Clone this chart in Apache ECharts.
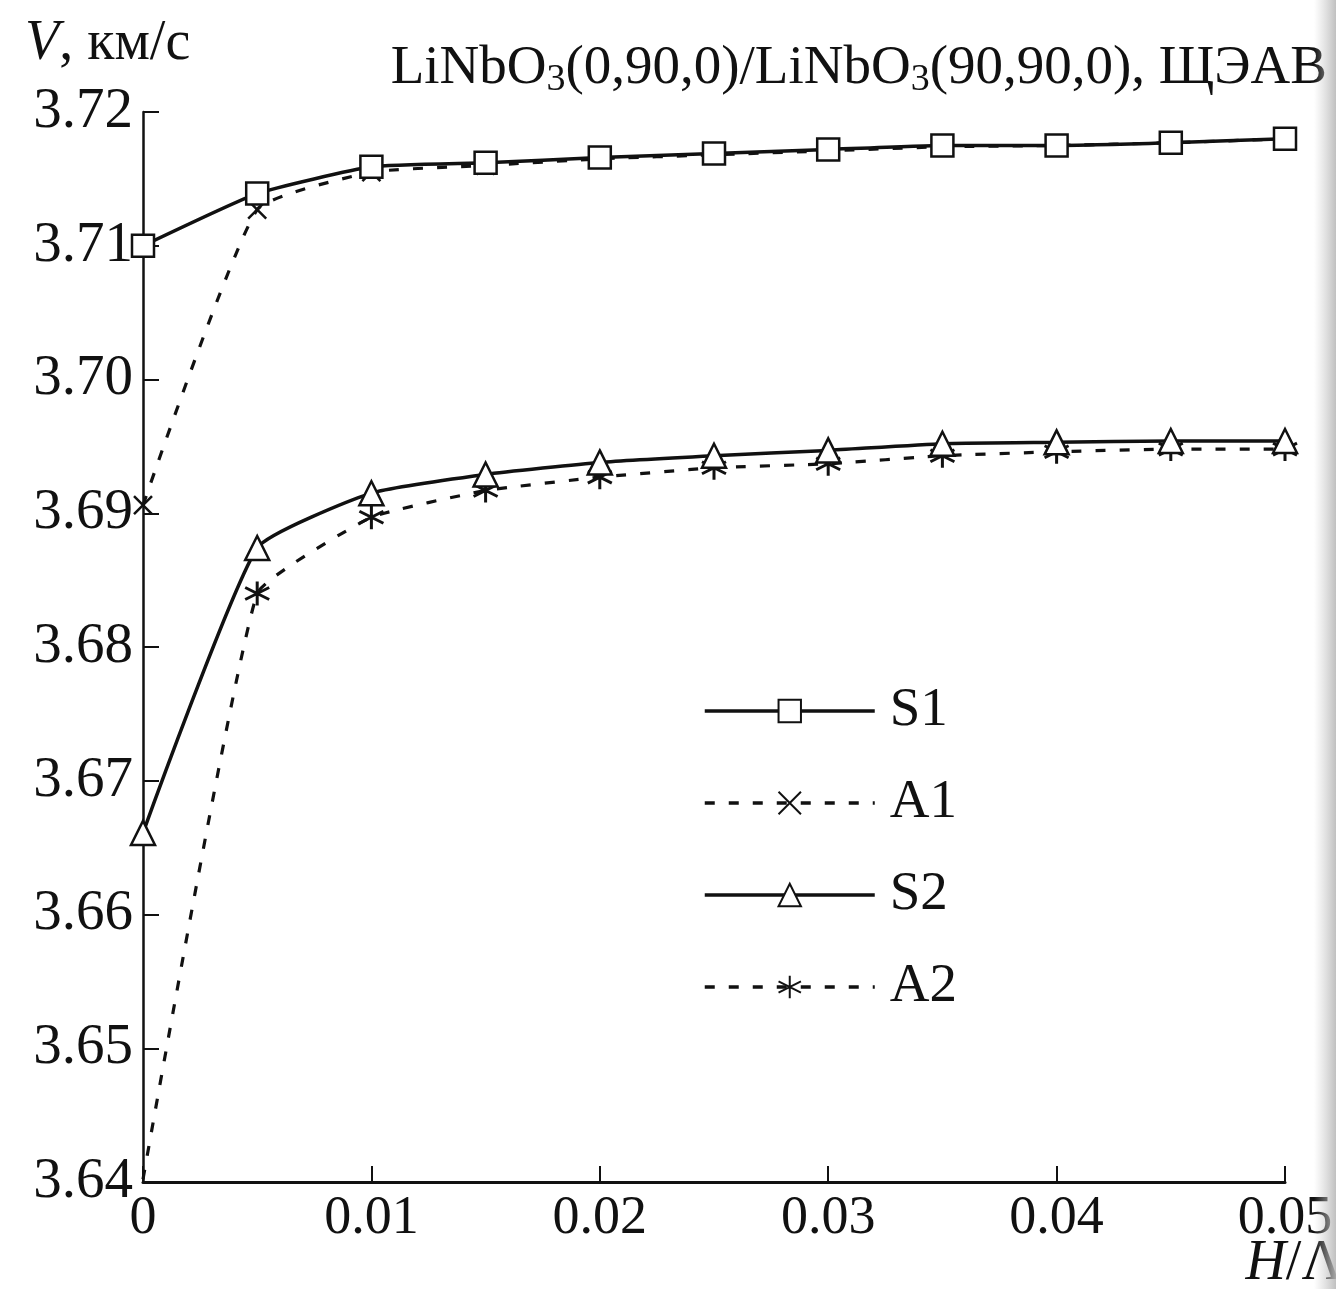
<!DOCTYPE html>
<html>
<head>
<meta charset="utf-8">
<script src="https://cdn.jsdelivr.net/npm/echarts@6/dist/echarts.min.js"></script>
<style>
  html, body { margin: 0; padding: 0; background: #fff; }
  #chart { width: 1336px; height: 1289px; }
</style>
</head>
<body>
<div id="chart"></div>
<script>
// толщина слоя H/Λ
const hL = [0, 0.005, 0.01, 0.015, 0.02, 0.025, 0.03, 0.035, 0.04, 0.045, 0.05];
// скорости, км/с
const S1 = [3.7100, 3.7139, 3.7159, 3.7162, 3.7166, 3.7169, 3.7172, 3.7175, 3.7175, 3.7177, 3.7180];
const A1 = [3.6906, 3.7127, 3.7155, 3.7160, 3.7165, 3.7168, 3.7171, 3.7174, 3.7175, 3.7177, 3.7180];
const S2 = [3.6661, 3.6874, 3.6915, 3.6929, 3.6938, 3.6943, 3.6947, 3.6952, 3.6953, 3.6954, 3.6954];
const A2 = [3.6402, 3.6840, 3.6897, 3.6917, 3.6927, 3.6934, 3.6937, 3.6943, 3.6946, 3.6948, 3.6948];
const seriesNames = ['S1', 'A1', 'S2', 'A2'];

const FONT = 'Liberation Serif';
const pairs = (ys) => hL.map((x, i) => [x, ys[i]]);

// маркеры-крестики рисуем контуром
const crossPath = 'path://M0 0 L10 10 M10 0 L0 10';
const starPath = 'path://M5 0 L5 10 M0.7 2.5 L9.3 7.5 M0.7 7.5 L9.3 2.5';

const chart = echarts.init(document.getElementById('chart'));

const solid = { color: '#111', width: 3.5, type: 'solid' };
const dashed = { color: '#111', width: 3.2, type: [10, 14] };
const italicRich = { i: { fontFamily: FONT, fontStyle: 'italic', fontSize: 56, fill: '#111' } };

chart.setOption({
    backgroundColor: '#fff',
    animation: false,
    title: {
        text: 'LiNbO{s|3}(0,90,0)/LiNbO{s|3}(90,90,0), ЩЭАВ',
        right: 4, top: 34,
        textStyle: {
            fontFamily: FONT, fontSize: 55, fontWeight: 'normal', color: '#111',
            rich: { s: { fontFamily: FONT, fontSize: 38, color: '#111', verticalAlign: 'bottom', padding: [22, 0, 0, 0] } }
        }
    },
    grid: { left: 143, right: 51, top: 112, bottom: 107, containLabel: false },
    legend: {
        orient: 'vertical', left: 698, top: 678,
        itemWidth: 170, itemHeight: 28, itemGap: 36,
        data: seriesNames,
        lineStyle: { width: 3.5 },
        textStyle: { fontFamily: FONT, fontSize: 55, lineHeight: 56, color: '#111', padding: [0, 0, 0, 10] }
    },
    xAxis: {
        type: 'value', min: 0, max: 0.05, interval: 0.01,
        axisLine: { lineStyle: { color: '#111', width: 3 } },
        axisTick: { inside: true, length: 16, lineStyle: { color: '#111', width: 2 } },
        splitLine: { show: false },
        axisLabel: {
            fontFamily: FONT, fontSize: 54, color: '#111', margin: 10,
            formatter: (v) => v === 0 ? '0' : v.toFixed(2)
        }
    },
    yAxis: {
        type: 'value', min: 3.64, max: 3.72, interval: 0.01,
        axisLine: { show: true, lineStyle: { color: '#111', width: 2.5 } },
        axisTick: { inside: true, length: 16, lineStyle: { color: '#111', width: 2 } },
        splitLine: { show: false },
        axisLabel: {
            fontFamily: FONT, fontSize: 57, color: '#111', margin: 10,
            formatter: (v) => v.toFixed(2)
        }
    },
    graphic: [
        {
            type: 'text', left: 25, top: 16,
            style: { text: '{i|V}, км/с', font: '56px "Liberation Serif"', fill: '#111', rich: italicRich }
        },
        {
            type: 'text', right: -6, top: 1236,
            style: { text: '{i|H}/Λ', font: '56px "Liberation Serif"', fill: '#111', rich: italicRich }
        },
        {
            type: 'rect', right: 0, top: 0, z: 100,
            shape: { width: 22, height: 1289 },
            style: {
                fill: new echarts.graphic.LinearGradient(0, 0, 1, 0, [
                    { offset: 0, color: 'rgba(200,200,200,0)' },
                    { offset: 1, color: 'rgba(185,185,185,0.9)' }
                ])
            }
        }
    ],
    series: [
        {
            name: 'S1', type: 'line', data: pairs(S1), smooth: 0.15, z: 4,
            symbol: 'rect', symbolSize: 22,
            lineStyle: solid,
            itemStyle: { color: '#fff', borderColor: '#111', borderWidth: 2.5 }
        },
        {
            name: 'A1', type: 'line', data: pairs(A1), smooth: 0.15, z: 3,
            symbol: crossPath, symbolSize: 18,
            lineStyle: dashed,
            itemStyle: { color: 'rgba(0,0,0,0)', borderColor: '#111', borderWidth: 2.5 }
        },
        {
            name: 'S2', type: 'line', data: pairs(S2), smooth: 0.15, z: 4,
            symbol: 'triangle', symbolSize: 24,
            lineStyle: solid,
            itemStyle: { color: '#fff', borderColor: '#111', borderWidth: 2.5 }
        },
        {
            name: 'A2', type: 'line', data: pairs(A2), smooth: 0.12, z: 3,
            symbol: starPath,
            // первая точка уходит под ось — маркер не виден
            symbolSize: (v, p) => (p && p.dataIndex === 0) ? 0 : 24,
            lineStyle: dashed,
            itemStyle: { color: 'rgba(0,0,0,0)', borderColor: '#111', borderWidth: 3 }
        }
    ]
});
</script>
</body>
</html>
